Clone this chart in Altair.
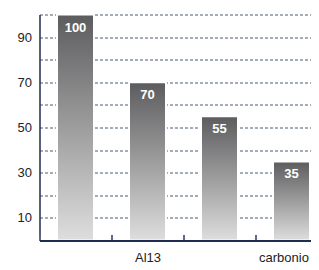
import altair as alt
import pandas as pd

categories = ["alluminio", "Al13|alluminio", "basalto", "carbonio|6X"]
values = [100, 70, 55, 35]
value_labels = ["100", "70", "55", "35"]
y_ticks = list(range(0, 101, 10))

df = pd.DataFrame({"cat": categories, "val": values, "lbl": value_labels})

FONT = "Liberation Sans"

x_enc = alt.X(
    "cat:N",
    sort=categories,
    title=None,
    scale=alt.Scale(range=[0, 288], paddingInner=0, paddingOuter=0),
    axis=alt.Axis(
        labelExpr="length(split(datum.label, '|')) == 1 ? ['', datum.label] : split(datum.label, '|')",
        labelAngle=0,
        labelBaseline="alphabetic",
        labelFontSize=13,
        labelFont=FONT,
        labelColor="#222222",
        labelPadding=27,
        labelLineHeight=15,
        labelOffset={"expr": "datum.value == 'carbonio|6X' ? -8 : 0"},
        tickBand="extent",
        tickSize={"expr": "-6"},
        tickColor="#5a6a88",
        tickWidth=2,
        domainColor="#1f2d50",
        domainWidth=2,
        grid=False,
        zindex=1,
    ),
)

y_enc = alt.Y(
    "val:Q",
    title=None,
    scale=alt.Scale(domain=[0, 100], nice=False),
    axis=alt.Axis(
        values=y_ticks,
        labelExpr="datum.value % 20 == 10 ? datum.label : ''",
        labelOverlap=False,
        ticks=False,
        labelPadding=8,
        labelFontSize=13,
        labelFont=FONT,
        labelColor="#222222",
        domainColor="#1f2d50",
        domainWidth=1.5,
        grid=True,
        gridColor="#4a5878",
        gridDash=[3, 2],
        gridWidth=1,
    ),
)

gradient = alt.Gradient(
    gradient="linear",
    stops=[
        alt.GradientStop(color="#5c5c5e", offset=0),
        alt.GradientStop(color="#dedede", offset=1),
    ],
    x1=0, x2=0, y1=0, y2=1,
)

base = alt.Chart(df).encode(x=x_enc, y=y_enc)

bars = base.mark_bar(size=37, color=gradient, stroke="white", strokeWidth=2)

texts = base.mark_text(
    color="white", fontWeight="bold", fontSize=13, font=FONT,
    baseline="alphabetic", dy=17
).encode(text="lbl:N")

chart = (
    alt.layer(bars, texts)
    .properties(
        width=271.5,
        height=226,
        autosize=alt.AutoSizeParams(type="none"),
        padding={"left": 31.5, "top": 6.5, "right": 0, "bottom": 21.5},
    )
    .configure_view(stroke=None)
)

chart.save("out.html", embed_options={"renderer": "svg", "actions": False})
